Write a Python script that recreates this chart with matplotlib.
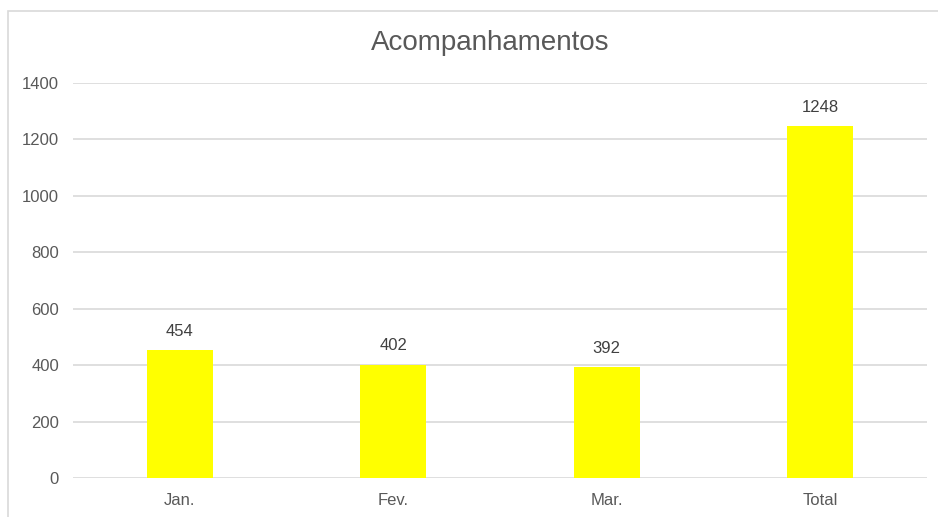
import matplotlib
matplotlib.use("Agg")
import matplotlib.pyplot as plt
from matplotlib.patches import Rectangle

months = ["Jan.", "Fev.", "Mar.", "Total"]
counts = [454, 402, 392, 1248]
yticks = [0, 200, 400, 600, 800, 1000, 1200, 1400]

plt.rcParams['font.family'] = ['Liberation Sans', 'DejaVu Sans']

fig = plt.figure(figsize=(9.38, 5.17), dpi=100)
W, H = 938, 517
# outer chart border (light grey, bottom/right run off the image)
fig.patches.append(Rectangle((8 / W, -0.05), 1.0, 1 - 11 / H + 0.05,
                             transform=fig.transFigure, fill=False,
                             edgecolor='#d9d9d9', linewidth=1.2))

ax = fig.add_axes([73 / W, 1 - 478 / H, (927 - 73) / W, (478 - 83) / H])
x = list(range(len(months)))
bars = ax.bar(x, counts, width=0.31, color='#ffff00', zorder=3)
ax.set_xlim(-0.5, len(months) - 0.5)
ax.set_ylim(0, 1400)
ax.set_yticks(yticks)
ax.set_xticks(x)
ax.set_xticklabels(months)
ax.grid(axis='y', color='#d9d9d9', linewidth=1.2, zorder=0)
for s in ax.spines.values():
    s.set_visible(False)
ax.tick_params(axis='both', length=0, labelsize=12, colors='#595959')
ax.tick_params(axis='y', pad=10)
ax.tick_params(axis='x', pad=11)

for xi, v in zip(x, counts):
    ax.annotate(str(v), (xi, v), xytext=(0, 8), textcoords='offset points',
                ha='center', va='bottom', fontsize=12, color='#404040')

fig.text(490 / W, 1 - 43 / H, "Acompanhamentos", ha='center', va='center',
         fontsize=20, color='#595959')

fig.savefig("out.png", dpi=100)
